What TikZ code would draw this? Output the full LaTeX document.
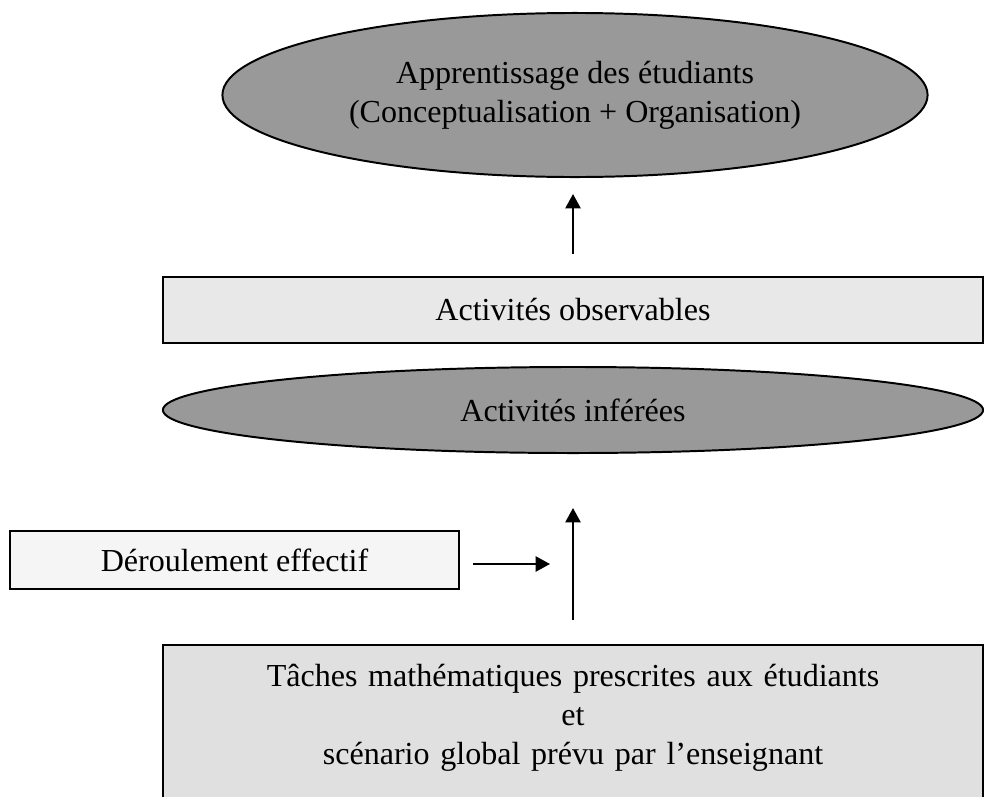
\documentclass[tikz,border=0pt]{standalone}
\usepackage{fontspec}
\setmainfont{Liberation Serif}
\usepackage{tikz}
\definecolor{ink}{HTML}{000000}
\definecolor{ovalfill}{gray}{0.60}
\definecolor{boxfill}{gray}{0.91}
\definecolor{boxlight}{gray}{0.96}
\definecolor{boxdark}{gray}{0.88}
\usetikzlibrary{
  arrows.meta,
  positioning,
  shapes.geometric
}
\tikzset{
  >={Triangle[length=0.36cm, width=0.38cm]},
  every node/.style={font=\fontsize{22.8}{28}\selectfont, text=ink},
  oval/.style={
    ellipse,
    draw=ink,
    fill=ovalfill,
    line width=1.4pt,
    inner sep=0pt,
    align=center
  },
  box/.style={
    rectangle,
    draw=ink,
    fill=boxfill,
    line width=1.4pt,
    inner sep=0pt,
    align=center
  },
  arrow/.style={->, line width=1.4pt, draw=ink}
}

\begin{document}
\begin{tikzpicture}[x=0.025cm, y=-0.025cm]
  \useasboundingbox (0,0) rectangle (984,796);
  \clip (0,0) rectangle (984,796);

  \node[oval, minimum width=17.625cm, minimum height=4.1cm] (appr) at (575,95)
    {Apprentissage des étudiants\\(Conceptualisation + Organisation)};
  \node[box, minimum width=20.5cm, minimum height=1.65cm] (obs) at (573,310) {Activités observables};
  \node[oval, minimum width=20.5cm, minimum height=2.15cm] (infer) at (573,410) {Activités inférées};
  \node[box, fill=boxlight, minimum width=11.225cm, minimum height=1.45cm] (deroul) at (234.5,560) {Déroulement effectif};
  \node[box, fill=boxdark, anchor=north, text width=20.5cm, text height=1.025cm, text depth=4.5cm] (taches) at (573,644)
    {Tâches mathématiques prescrites aux étudiants\\et\\scénario global prévu par l’enseignant};
  \coordinate (join) at (550,564);

  \draw[arrow, shorten <=0.55cm, shorten >=0.4cm] (obs.north) -- (obs.north |- appr.south);
  \draw[arrow, shorten <=0.6cm, shorten >=1.35cm] (taches.north) -- (taches.north |- infer.south);
  \draw[arrow, shorten <=0.325cm] (deroul.east |- join) -- (join);
\end{tikzpicture}
\end{document}
